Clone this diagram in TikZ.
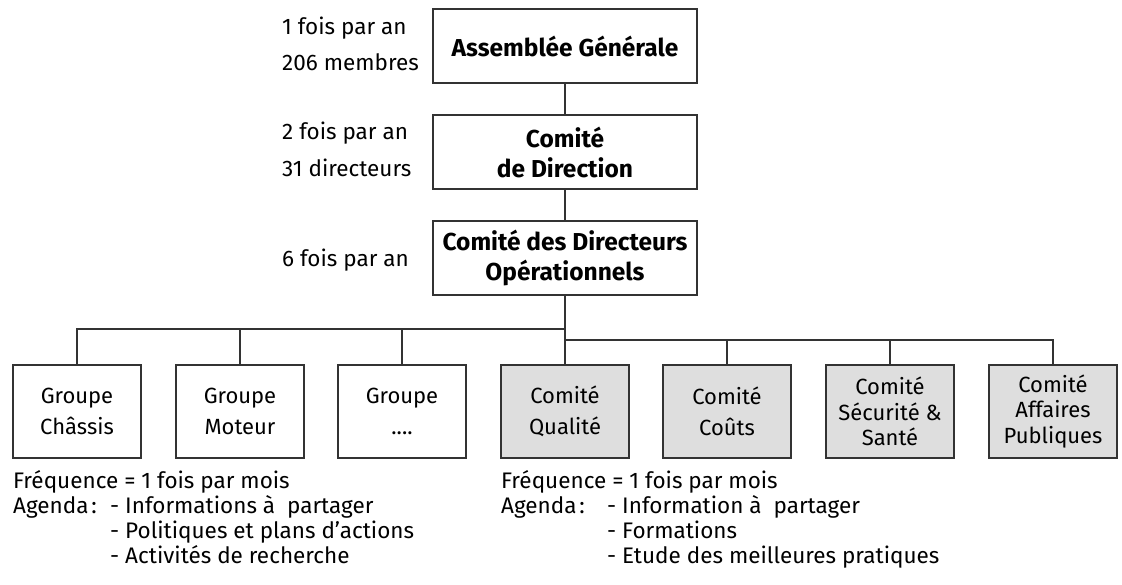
\documentclass[tikz,border=0pt]{standalone}
\usepackage{fontspec}
\setmainfont{Fira Sans}
\begin{document}
\begin{tikzpicture}[x=1pt,y=-1pt,
  ln/.style={line width=1.3pt, draw=black!80},
  topbox/.style={ln, minimum width=264pt, minimum height=74pt, inner sep=0pt, align=center,
    font=\fontsize{24.5}{30}\selectfont\bfseries},
  grpbox/.style={ln, minimum width=128pt, minimum height=93pt, inner sep=0pt, align=center,
    font=\fontsize{22}{31}\selectfont},
  combox/.style={grpbox, fill=black!13},
  tribox/.style={combox, font=\fontsize{22}{25.5}\selectfont},
  side/.style={anchor=base west, inner sep=0pt, font=\fontsize{22.5}{26}\selectfont},
  txt/.style={anchor=base west, inner sep=0pt, font=\fontsize{22.5}{26}\selectfont}
]
\useasboundingbox (0,0) rectangle (1122,585);
% top chain
\node[topbox] (ag)  at (565,46)  {Assemblée Générale};
\node[topbox] (cd)  at (565,152) {Comité\\de Direction};
\node[topbox] (cdo) at (565,258) {Comité des Directeurs\\Opérationnels};
% side labels
\node[side] (s1) at (282,35)  {1 fois par an};
\node[side] (s2) at (282,71)  {206 membres};
\node[side] (s3) at (282,140) {2 fois par an};
\node[side] (s4) at (282,177) {31 directeurs};
\node[side] (s5) at (282,267) {6 fois par an};
% bottom boxes
\node[grpbox] (g1) at (77,411.5)  {Groupe\\Châssis};
\node[grpbox] (g2) at (240,411.5) {Groupe\\Moteur};
\node[grpbox] (g3) at (402,411.5) {Groupe\\....};
\node[combox] (c1) at (565,411.5) {Comité\\Qualité};
\node[combox] (c2) at (727,411.5) {Comité\\Coûts};
\node[tribox] (c3) at (890,411.5) {Comité\\Sécurité \&\\Santé};
\node[tribox] (c4) at (1053,411.5) {Comité\\Affaires\\Publiques};
% connectors
\coordinate (j1) at (565,329);
\coordinate (j2) at (565,340);
\draw[ln] (ag) -- (cd);
\draw[ln] (cd) -- (cdo);
\draw[ln] (cdo) -- (c1);
\draw[ln] (g1.north) |- (j1);
\draw[ln] (g2.north) -- (g2.north |- j1);
\draw[ln] (g3.north) -- (g3.north |- j1);
\draw[ln] (c4.north) |- (j2);
\draw[ln] (c2.north) -- (c2.north |- j2);
\draw[ln] (c3.north) -- (c3.north |- j2);
% bottom texts left
\node[txt] (lf) at (13,488)  {Fréquence = 1 fois par mois};
\node[txt] (la) at (13,513)  {Agenda\hspace{0.12em}:};
\node[txt] (l1) at (110,513) {- Informations à\ \ partager};
\node[txt] (l2) at (110,538) {- Politiques et plans d’actions};
\node[txt] (l3) at (110,563) {- Activités de recherche};
% bottom texts right
\node[txt] (rf) at (501,488)  {Fréquence = 1 fois par mois};
\node[txt] (ra) at (501,513)  {Agenda\hspace{0.12em}:};
\node[txt] (r1) at (607,513) {- Information à\ \ partager};
\node[txt] (r2) at (607,538) {- Formations};
\node[txt] (r3) at (607,563) {- Etude des meilleures pratiques};
\end{tikzpicture}
\end{document}
